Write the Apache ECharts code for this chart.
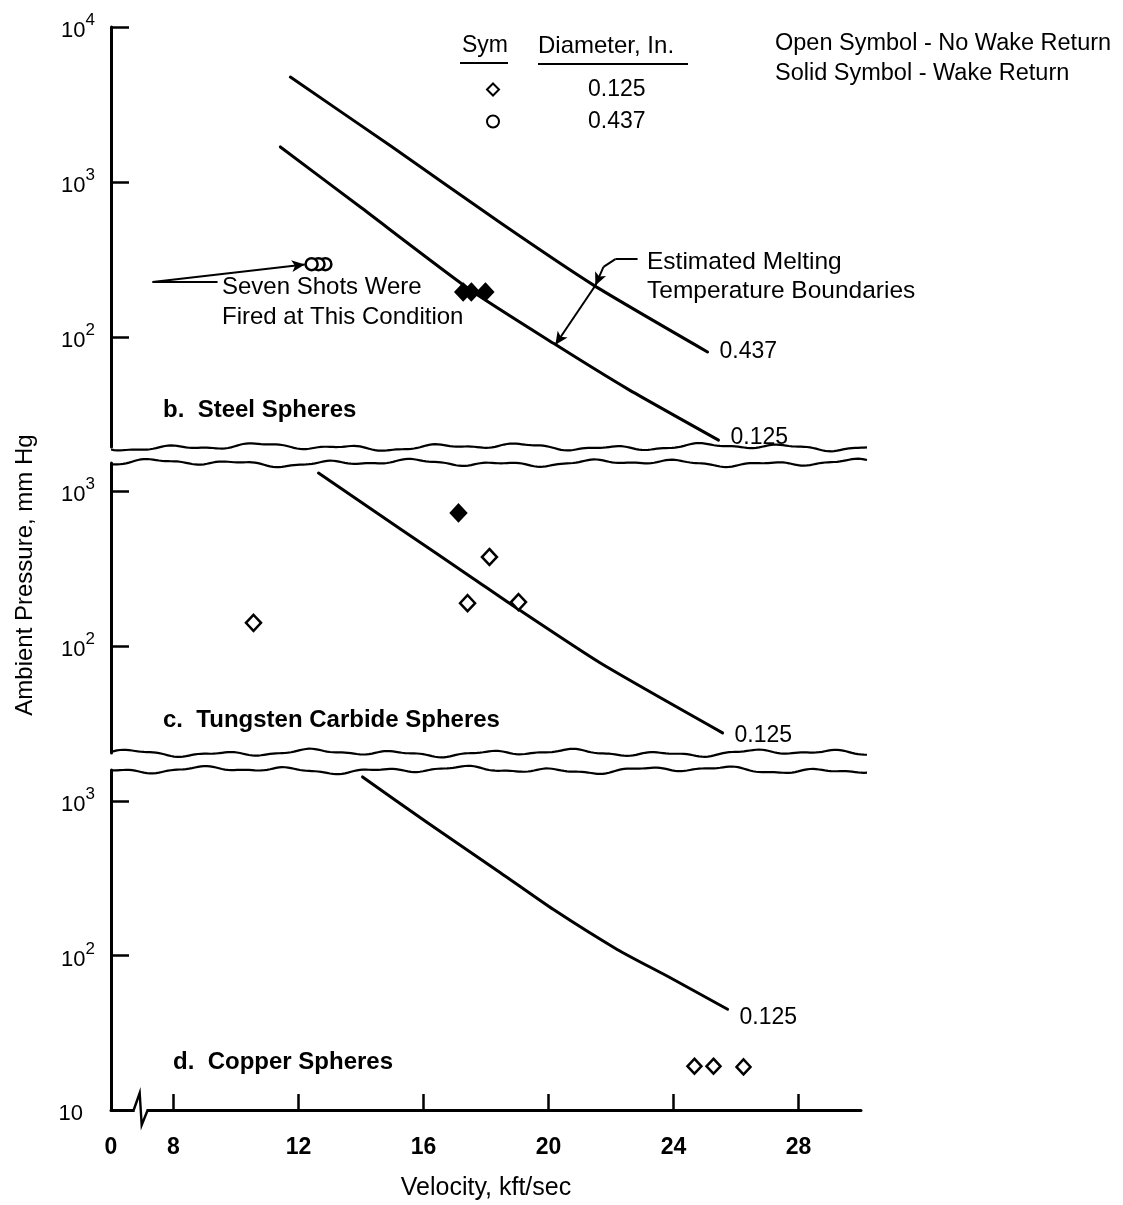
<!DOCTYPE html>
<html>
<head>
<meta charset="utf-8">
<script src="https://cdn.jsdelivr.net/npm/echarts@6/dist/echarts.min.js"></script>
<style>
  html, body { margin: 0; padding: 0; background: #fff; }
  #chart { width: 1123px; height: 1205px; }
</style>
</head>
<body>
<div id="chart"></div>
<script>
// ---- Data: velocity (kft/sec) vs ambient pressure (mm Hg) ----
// b. Steel spheres
const steelCurve437X = [11.74, 15.0, 18.46, 21.44, 25.09];
const steelCurve437Y = [4750, 1680, 545, 216, 80];
const steelCurve125X = [11.42, 14.0, 17.5, 20.16, 22.5, 25.44];
const steelCurve125Y = [1683, 684, 201, 91, 46.6, 21.6];
const steelOpen437X = [12.86, 12.64, 12.42];
const steelOpen437Y = [295, 295, 295];
const steelSolid125X = [17.27, 17.53, 17.98];
const steelSolid125Y = [195, 195, 195];

// c. Tungsten carbide spheres
const carbideCurve125X = [12.64, 15.26, 17.6, 18.88, 21.66, 25.57];
const carbideCurve125Y = [1306, 569, 272, 181, 77.6, 27.5];
const carbideOpen125X = [10.56, 17.41, 18.11, 19.04];
const carbideOpen125Y = [141, 189, 375, 192];
const carbideSolid125X = [17.12];
const carbideSolid125Y = [722];

// d. Copper spheres
const copperCurve125X = [14.05, 16.13, 18.46, 20.16, 22.21, 23.81, 25.73];
const copperCurve125Y = [1429, 722, 343, 198, 109, 73.3, 44.9];
const copperOpen125X = [24.67, 25.28, 26.24];
const copperOpen125Y = [19.2, 19.2, 19.0];

// Axis ticks
const velocityTicks = [8, 12, 16, 20, 24, 28];
const velocityLabels = [6, 8, 12, 16, 20, 24, 28];   // 6 is the broken-axis origin, printed as "0"
const pressureTicks = [10, 100, 1000, 10000];

// ---- Layout ----
const FONT = "'Liberation Sans', Arial, sans-serif";
const GRID_LEFT = 111, GRID_WIDTH = 750;
const panels = [
  { top: 27,  height: 420, yMin: 19.5, yMax: 10000 },
  { top: 463, height: 290, yMin: 20.4, yMax: 1516 },
  { top: 770, height: 340, yMin: 10,   yMax: 1585 }
];
const axisBreakAt = 6.95;

const pts = (xs, ys) => xs.map((x, i) => [x, ys[i]]);

function pressureLabel(v) {
  const lg = Math.log10(v);
  const e = Math.round(lg);
  if (Math.abs(lg - e) > 0.01) return '';
  return e === 1 ? '{b|10}{pad| }' : '{b|10}{s|' + e + '}';
}

function curveSeries(name, grid, xs, ys, label, labelOffset) {
  return {
    name: name, type: 'line', xAxisIndex: grid, yAxisIndex: grid,
    data: pts(xs, ys), smooth: 0.2, symbol: 'none', silent: true,
    lineStyle: { color: '#000', width: 3, join: 'round', cap: 'round' },
    endLabel: { show: true, formatter: label, fontSize: 23, fontFamily: FONT, color: '#000', distance: 12, offset: labelOffset || [0, 0] }
  };
}

function markerSeries(name, grid, xs, ys, symbol, solid, size) {
  return {
    name: name, type: 'scatter', xAxisIndex: grid, yAxisIndex: grid,
    data: pts(xs, ys), symbol: symbol, symbolSize: size, silent: true, z: 4,
    itemStyle: { color: solid ? '#000' : '#fff', borderColor: '#000', borderWidth: 2.5, opacity: 1 }
  };
}

// Torn-paper style break line along the top or bottom edge of a panel
function waveSeries(grid, edge, seed) {
  return {
    type: 'custom', xAxisIndex: grid, yAxisIndex: grid, silent: true, clip: false, z: 5,
    data: [[10, 100]],
    renderItem(params) {
      const cs = params.coordSys;
      const y0 = edge === 'top' ? cs.y : cs.y + cs.height;
      const points = [];
      for (let x = cs.x; x <= cs.x + cs.width + 6; x += 3) {
        const t = x - cs.x;
        points.push([x, y0 + 2.0 * Math.sin(t / 14 + seed) + 1.6 * Math.sin(t / 37 + seed * 1.7) + 0.8 * Math.sin(t / 6 + seed * 3)]);
      }
      return { type: 'polyline', shape: { points: points }, style: { stroke: '#000', lineWidth: 2.2, fill: null } };
    }
  };
}

// Zig-zag mark on the velocity axis showing the scale break
const breakSeries = {
  type: 'custom', xAxisIndex: 2, yAxisIndex: 2, silent: true, clip: false, z: 6,
  data: [[axisBreakAt, 10]],
  renderItem(params, api) {
    const p = api.coord([axisBreakAt, 10]);
    return {
      type: 'group',
      children: [
        { type: 'rect', shape: { x: p[0] - 6, y: p[1] - 3, width: 12, height: 6 }, style: { fill: '#fff' } },
        { type: 'polyline',
          shape: { points: [[p[0] - 7, p[1]], [p[0] - 1, p[1] - 17], [p[0] + 1, p[1] + 15], [p[0] + 7, p[1]]] },
          style: { stroke: '#000', lineWidth: 2.4, fill: null } }
      ]
    };
  }
};

const grids = panels.map(p => ({ left: GRID_LEFT, width: GRID_WIDTH, top: p.top, height: p.height }));

const xAxes = panels.map((p, i) => ({
  type: 'value', gridIndex: i, min: 6, max: 30, show: i === 2,
  splitLine: { show: false },
  axisLine: { show: true, lineStyle: { color: '#000', width: 3 } },
  axisTick: { show: true, inside: true, length: 16, customValues: velocityTicks, lineStyle: { color: '#000', width: 2.5 } },
  axisLabel: {
    customValues: velocityLabels, margin: 26, fontSize: 23, fontWeight: 'bold', fontFamily: FONT, color: '#000',
    formatter: v => (v === 6 ? '0' : String(v))
  },
  name: i === 2 ? 'Velocity, kft/sec' : '', nameLocation: 'middle', nameGap: 66,
  nameTextStyle: { fontSize: 25, fontFamily: FONT, color: '#000' }
}));

const yAxes = panels.map((p, i) => ({
  type: 'log', logBase: 10, gridIndex: i, min: p.yMin, max: p.yMax,
  splitLine: { show: false },
  axisLine: { show: true, lineStyle: { color: '#000', width: 3 } },
  axisTick: { show: true, inside: true, length: 18, customValues: pressureTicks, lineStyle: { color: '#000', width: 2.5 } },
  axisLabel: {
    customValues: pressureTicks, margin: 16, formatter: pressureLabel,
    fontSize: 22, fontFamily: FONT, color: '#000',
    rich: {
      b: { fontSize: 22, fontFamily: FONT, color: '#000', lineHeight: 30, verticalAlign: 'bottom' },
      s: { fontSize: 17, fontFamily: FONT, color: '#000', verticalAlign: 'top', lineHeight: 18 },
      pad: { width: 12, fontSize: 17 }
    }
  }
}));

const lineAnn = { color: '#000', width: 2, type: 'solid' };
const arrowEnd = { symbol: 'arrow', symbolSize: [9, 13] };

const steel437 = curveSeries('Steel 0.437 in.', 0, steelCurve437X, steelCurve437Y, '0.437');
steel437.markLine = {
  silent: true, animation: false, symbol: ['none', 'none'], label: { show: false }, lineStyle: lineAnn,
  data: [
    [{ coord: [7.33, 226] }, { coord: [9.41, 226] }],
    [{ coord: [7.33, 226] }, Object.assign({ coord: [12.2, 293] }, arrowEnd)],
    [{ coord: [22.85, 318] }, { coord: [22.14, 318] }],
    [{ coord: [22.14, 318] }, { coord: [21.76, 283] }],
    [{ coord: [21.76, 283] }, Object.assign({ coord: [21.5, 215] }, arrowEnd)],
    [{ coord: [21.5, 215] }, Object.assign({ coord: [20.22, 89] }, arrowEnd)]
  ]
};

const series = [
  steel437,
  curveSeries('Steel 0.125 in.', 0, steelCurve125X, steelCurve125Y, '0.125', [0, -2]),
  markerSeries('0.437', 0, steelOpen437X, steelOpen437Y, 'circle', false, 12),
  markerSeries('0.125 wake', 0, steelSolid125X, steelSolid125Y, 'diamond', true, [15, 16]),

  curveSeries('Tungsten carbide 0.125 in.', 1, carbideCurve125X, carbideCurve125Y, '0.125', [0, 3]),
  markerSeries('0.125', 1, carbideOpen125X, carbideOpen125Y, 'diamond', false, [15, 16]),
  markerSeries('0.125 wake', 1, carbideSolid125X, carbideSolid125Y, 'diamond', true, [15, 16]),

  curveSeries('Copper 0.125 in.', 2, copperCurve125X, copperCurve125Y, '0.125', [0, 8]),
  markerSeries('0.125', 2, copperOpen125X, copperOpen125Y, 'diamond', false, [14, 15]),

  waveSeries(0, 'bottom', 0.4),
  waveSeries(1, 'top', 1.9),
  waveSeries(1, 'bottom', 3.1),
  waveSeries(2, 'top', 4.6),
  breakSeries
];

const txt = (text, x, y, size, opts) => Object.assign({
  type: 'text', x: x, y: y, silent: true,
  style: Object.assign({ text: text, fontSize: size, fontFamily: FONT, fill: '#000', align: 'left', verticalAlign: 'middle' }, (opts && opts.style) || {})
}, (opts && opts.el) || {});

const graphic = [
  txt('Sym', 485, 46, 23, { style: { align: 'center' } }),
  txt('Diameter, In.', 538, 46, 24),
  { type: 'line', silent: true, shape: { x1: 460, y1: 63, x2: 508, y2: 63 }, style: { stroke: '#000', lineWidth: 2 } },
  { type: 'line', silent: true, shape: { x1: 538, y1: 64, x2: 688, y2: 64 }, style: { stroke: '#000', lineWidth: 2 } },
  txt('Open Symbol - No Wake Return', 775, 44, 23.5),
  txt('Solid Symbol - Wake Return', 775, 74, 23.5),
  txt('Seven Shots Were', 222, 287, 24),
  txt('Fired at This Condition', 222, 317, 24),
  txt('Estimated Melting', 647, 262, 24.5),
  txt('Temperature Boundaries', 647, 291, 24.5),
  txt('b.  Steel Spheres', 163, 410, 24, { style: { fontWeight: 'bold' } }),
  txt('c.  Tungsten Carbide Spheres', 163, 720, 24, { style: { fontWeight: 'bold' } }),
  txt('d.  Copper Spheres', 173, 1062, 24, { style: { fontWeight: 'bold' } }),
  txt('Ambient Pressure, mm Hg', 25, 575, 24, { style: { align: 'center' }, el: { rotation: Math.PI / 2 } })
];

const chart = echarts.init(document.getElementById('chart'), null, { renderer: 'canvas' });
chart.setOption({
  animation: false,
  backgroundColor: '#fff',
  textStyle: { fontFamily: FONT, color: '#000' },
  grid: grids,
  xAxis: xAxes,
  yAxis: yAxes,
  legend: {
    orient: 'vertical', left: 481, top: 73, itemWidth: 12, itemHeight: 12, itemGap: 9,
    selectedMode: false,
    data: [
      { name: '0.125', icon: 'diamond', itemStyle: { color: '#fff', borderColor: '#000', borderWidth: 2 } },
      { name: '0.437', icon: 'circle', itemStyle: { color: '#fff', borderColor: '#000', borderWidth: 2 } }
    ],
    formatter: n => '{v|' + n + '}',
    textStyle: { fontSize: 23, fontFamily: FONT, color: '#000', rich: { v: { fontSize: 23, fontFamily: FONT, color: '#000', padding: [0, 0, 0, 84] } } }
  },
  series: series,
  graphic: graphic
});
</script>
</body>
</html>
